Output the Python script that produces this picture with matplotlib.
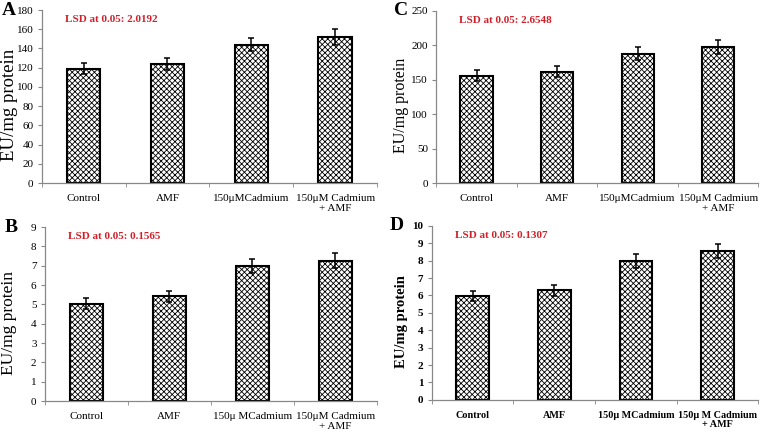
import matplotlib.pyplot as plt
import matplotlib.transforms as mtrans
import numpy as np

plt.rcParams["font.family"] = ["Liberation Serif", "DejaVu Serif"]
plt.rcParams["hatch.color"] = "#7a7a7a"
plt.rcParams["hatch.linewidth"] = 0.6

cats_a = ["Control", "AMF", "150μMCadmium", "150μM Cadmium\n+ AMF"]
cats_b = ["Control", "AMF", "150μ MCadmium", "150μM Cadmium\n+ AMF"]
cats_d = ["Control", "AMF", "150μ MCadmium", "150μ M Cadmium\n+ AMF"]

vals_a = [119, 124, 144, 152]
err_a = [6, 6, 7, 8]
vals_b = [5.05, 5.42, 7.0, 7.27]
err_b = [0.27, 0.27, 0.35, 0.38]
vals_c = [156, 162, 188, 198]
err_c = [8, 8, 9, 10]
vals_d = [5.97, 6.3, 8.0, 8.55]
err_d = [0.3, 0.32, 0.4, 0.42]

# letter, axes rect, cats, values, errors, ymax, step, lsd text, bold, ylabel size, ylabel x (fig frac), xtick size
panels = [
    ("A", [0.055, 0.580, 0.441, 0.397], cats_a, vals_a, err_a, 180, 20, "LSD at 0.05: 2.0192", False, 13.5, 0.012, 8),
    ("C", [0.574, 0.580, 0.424, 0.395], cats_a, vals_c, err_c, 250, 50, "LSD at 0.05: 2.6548", False, 11.5, 0.527, 8),
    ("B", [0.059, 0.080, 0.437, 0.399], cats_b, vals_b, err_b, 9, 1, "LSD at 0.05: 0.1565", False, 12.5, 0.012, 8),
    ("D", [0.568, 0.083, 0.430, 0.399], cats_d, vals_d, err_d, 10, 1, "LSD at 0.05: 0.1307", True, 10.5, 0.528, 7.3),
]

fig = plt.figure(figsize=(7.6, 4.36), dpi=100)

for letter, rect, cats, vals, errs, ymax, step, lsd, bold, ylsize, ylx, xts in panels:
    ax = fig.add_axes(rect)
    weight = "bold" if bold else "normal"
    x = np.arange(len(cats))
    ax.bar(x, vals, width=0.4, color="white", edgecolor="black",
           linewidth=1.5, hatch="xxxxxx", zorder=2)
    ax.errorbar(x, vals, yerr=errs, fmt="none", ecolor="black",
                elinewidth=1.1, capsize=2.5, capthick=1.1, zorder=3)
    ax.set_xlim(-0.5, len(cats) - 0.5)
    ax.set_ylim(0, ymax)
    ax.set_yticks(np.arange(0, ymax + step / 2, step))
    ax.set_xticks(x)
    ax.set_xticklabels(cats, fontsize=xts, fontweight=weight, linespacing=1.05)
    ax.tick_params(axis="x", length=0, pad=8)
    # category boundary ticks, Excel style
    ax.set_xticks(np.arange(-0.5, len(cats), 1.0), minor=True)
    ax.tick_params(axis="x", which="minor", length=3, color="#888888", direction="out")
    ax.tick_params(axis="y", length=3, color="#888888", labelsize=8, pad=3)
    for lab in ax.get_yticklabels():
        lab.set_fontweight(weight)
    for side in ("top", "right"):
        ax.spines[side].set_visible(False)
    for side in ("left", "bottom"):
        ax.spines[side].set_color("#888888")
        ax.spines[side].set_linewidth(0.9)
    ax.set_ylabel("EU/mg protein", fontsize=ylsize, fontweight=weight, va="center")
    ax.yaxis.set_label_coords(ylx, 0.45,
                              transform=mtrans.blended_transform_factory(fig.transFigure, ax.transAxes))
    ax.text(0.07, 0.97, lsd, transform=ax.transAxes, color="#d0202a",
            fontsize=8, fontweight="bold", va="top")
    ax.text(-0.12 if letter in "AB" else -0.13, 1.0, letter, transform=ax.transAxes,
            fontsize=14, fontweight="bold", va="center", ha="left")

fig.savefig("out.png", dpi=100)
